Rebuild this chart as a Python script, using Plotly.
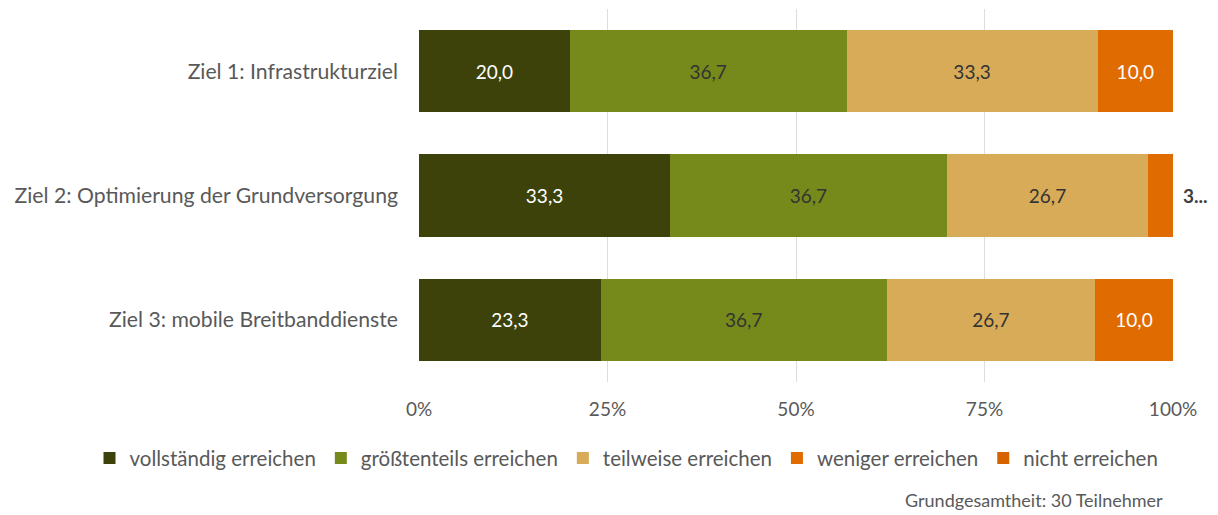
import plotly.graph_objects as go

categories = ["Ziel 1: Infrastrukturziel",
              "Ziel 2: Optimierung der Grundversorgung",
              "Ziel 3: mobile Breitbanddienste"]
series_names = ["vollständig erreichen", "größtenteils erreichen", "teilweise erreichen",
                "weniger erreichen", "nicht erreichen"]
vollstaendig = [20.0, 33.3, 23.3]
groesstenteils = [36.7, 36.7, 36.7]
teilweise = [33.3, 26.7, 26.7]
weniger = [10.0, 3.3, 10.0]
nicht = [0.0, 0.0, 0.0]
tick_labels = ["0%", "25%", "50%", "75%", "100%"]
tick_vals = [0, 25, 50, 75, 100]
note = "Grundgesamtheit: 30 Teilnehmer"

colors = ["#3C420A", "#768A1B", "#D8AB58", "#E06B00", "#D66200"]
text_colors = ["#FFFFFF", "#333333", "#333333", "#FFFFFF", "#FFFFFF"]
all_vals = [vollstaendig, groesstenteils, teilweise, weniger, nicht]

FONT = "Lato"
fig = go.Figure()
small_labels = []
for name, vals, col, tcol in zip(series_names, all_vals, colors, text_colors):
    texts = []
    for cat, v in zip(categories, vals):
        s = f"{v:.1f}".replace(".", ",")
        if v == 0:
            texts.append("")
        elif v < 5:
            texts.append("")
            small_labels.append((cat, s))
        else:
            texts.append(s)
    fig.add_trace(go.Bar(
        y=categories, x=vals, name=name, orientation="h",
        marker=dict(color=col, line=dict(width=0)),
        text=texts, textposition="inside", insidetextanchor="middle",
        textfont=dict(color=tcol, size=19, family=FONT),
        textangle=0, cliponaxis=False,
    ))

for cat, s in small_labels:
    fig.add_annotation(x=100, y=cat, xref="x", yref="y", text=f"<b>{s[0]}...</b>",
                       showarrow=False, xanchor="left", xshift=8,
                       font=dict(size=19, color="#404040", family=FONT))

fig.add_annotation(x=1, y=-0.316, xref="paper", yref="paper", text=note,
                   showarrow=False, xanchor="right", yanchor="middle", xshift=-8,
                   font=dict(size=18, color="#595959", family=FONT))

fig.update_layout(
    barmode="stack", barnorm="percent", bargap=0.34,
    width=1218, height=515,
    margin=dict(l=419, r=45, t=9, b=133),
    paper_bgcolor="white", plot_bgcolor="white",
    separators=",.",
    font=dict(family=FONT, size=19, color="#595959"),
    legend=dict(orientation="h", x=-0.437, xanchor="left", y=-0.204, yanchor="middle",
                font=dict(size=20.5, color="#595959", family=FONT),
                traceorder="normal", itemwidth=30, tracegroupgap=0),
    showlegend=True,
)
fig.update_xaxes(range=[0, 100], tickvals=tick_vals, ticktext=tick_labels,
                 showgrid=True, gridcolor="#DDDDDD", gridwidth=1,
                 zeroline=False, showline=False, ticks="",
                 tickfont=dict(size=19, color="#595959", family=FONT), ticklabelstandoff=14)
fig.update_yaxes(autorange="reversed", showgrid=False, showline=False, ticks="",
                 tickfont=dict(size=21.2, color="#595959", family=FONT), ticklabelstandoff=20)

fig.write_html("out.html")
